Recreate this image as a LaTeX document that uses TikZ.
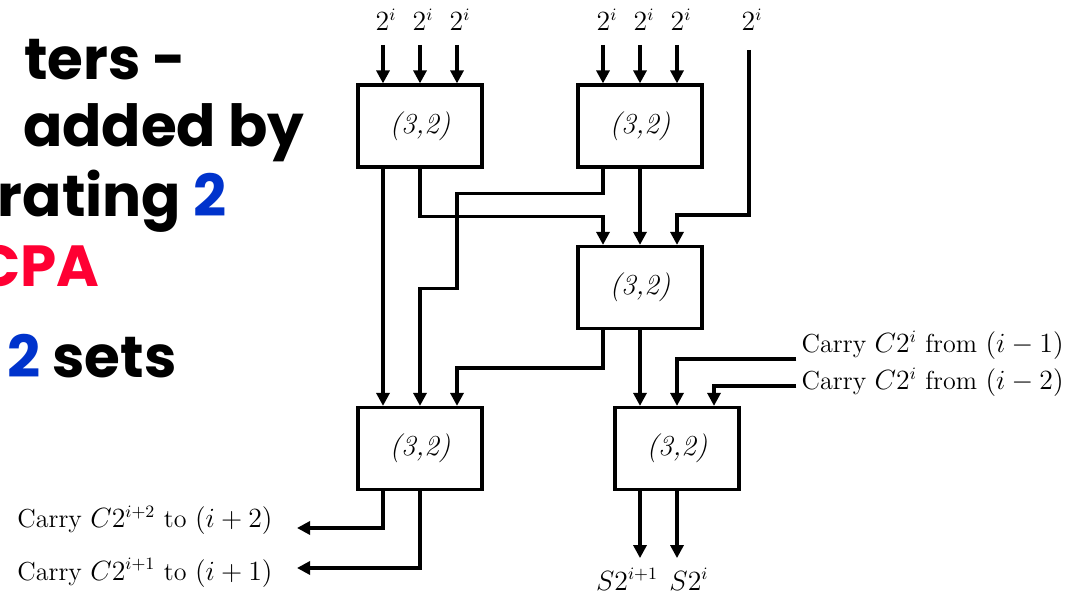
\documentclass[tikz,border=0pt]{standalone}
\usepackage{graphicx}
\usepackage{fontspec}
\newfontfamily\comic{Poppins}
\usetikzlibrary{arrows.meta,calc}
\definecolor{myblue}{RGB}{0,51,204}
\definecolor{myred}{RGB}{255,0,51}
\newcommand{\lblsc}[1]{\scalebox{0.965}{#1}}
\begin{document}
\begin{tikzpicture}[x=0.5pt,y=-0.5pt,
  csa/.style={draw,line width=1.6pt,minimum width=62pt,minimum height=41pt,inner sep=0pt,
    font=\fontsize{14.5}{16}\selectfont\itshape},
  wire/.style={line width=1.6pt},
  arr/.style={wire,-{Triangle[length=6.5pt,width=6.5pt]}},
  lbl/.style={font=\fontsize{13.5}{15}\selectfont,inner sep=0pt},
  big/.style={font=\comic\bfseries\fontsize{29}{35}\selectfont,inner sep=0pt,anchor=base east}]
\useasboundingbox (0,0) rectangle (1069,597);

% left heading text (clipped at the left edge, as in the reference)
\begin{scope}
\clip (0,0) rectangle (1069,597);
\node[big] (t1) at (187,80) {ters -};
\node[big] (t2) at (305,147) {added by};
\node[big] (t3) at (227,217) {rating \textcolor{myblue}{2}};
\node[big,text=myred] (t4) at (100,287) {CPA};
\node[big] (t5) at (177,378) {\textcolor{myblue}{2} sets};
\end{scope}

% boxes
\node[csa] (b1) at (420,126) {(3,2)};
\node[csa] (b2) at (640,126) {(3,2)};
\node[csa] (b3) at (640,287.5) {(3,2)};
\node[csa] (b4) at (420,448.5) {(3,2)};
\node[csa] (b5) at (677,448.5) {(3,2)};

% top labels
\node[lbl,anchor=base] (l1) at (386,31) {\lblsc{$2^i$}};
\node[lbl,anchor=base] (l2) at (423,31) {\lblsc{$2^i$}};
\node[lbl,anchor=base] (l3) at (460,31) {\lblsc{$2^i$}};
\node[lbl,anchor=base] (l4) at (607,31) {\lblsc{$2^i$}};
\node[lbl,anchor=base] (l5) at (644,31) {\lblsc{$2^i$}};
\node[lbl,anchor=base] (l6) at (681,31) {\lblsc{$2^i$}};
\node[lbl,anchor=base] (l7) at (752,31) {\lblsc{$2^i$}};

\coordinate (i1) at (383,45);
\coordinate (i2) at (420,45);
\coordinate (i3) at (457,45);
\coordinate (i4) at (603,45);
\coordinate (i5) at (640,45);
\coordinate (i6) at (677,45);
\coordinate (i7) at (749,50);

\draw[arr] (i1) -- (i1 |- b1.north);
\draw[arr] (i2) -- (i2 |- b1.north);
\draw[arr] (i3) -- (i3 |- b1.north);
\draw[arr] (i4) -- (i4 |- b2.north);
\draw[arr] (i5) -- (i5 |- b2.north);
\draw[arr] (i6) -- (i6 |- b2.north);
\draw[arr] (i7) -- ++(0,165) -| ($(b3.north)+(37,0)$);

% box 1 outputs
\draw[arr] ($(b1.south)+(-37,0)$) -- ($(b4.north)+(-37,0)$);
\draw[arr] (b1.south) -- ++(0,48) -| ($(b3.north)+(-37,0)$);

% box 2 outputs
\draw[arr] ($(b2.south)+(-37,0)$) -- ++(0,25) -| ++(-146,95) -| (b4.north);
\draw[arr] (b2.south) -- (b3.north);

% box 3 outputs
\draw[arr] ($(b3.south)+(-37,0)$) -- ++(0,38) -| ($(b4.north)+(37,0)$);
\draw[arr] (b3.south) -- ($(b5.north)+(-37,0)$);

% carries in
\node[lbl,anchor=base east] (cf1) at (1064,353) {\lblsc{Carry $C2^i$ from $(i-1)$}};
\node[lbl,anchor=base east] (cf2) at (1064,390) {\lblsc{Carry $C2^i$ from $(i-2)$}};
\draw[arr] ([shift={(-5,6)}]cf1.base west) -| (b5.north);
\draw[arr] ([shift={(-5,-4)}]cf2.base west) -| ($(b5.north)+(37,0)$);

% box 5 outputs
\node[lbl,anchor=base] (s1) at (627,590) {\lblsc{$S2^{i+1}$}};
\node[lbl,anchor=base] (s2) at (689,590) {\lblsc{$S2^i$}};
\draw[arr] ($(b5.south)+(-37,0)$) -- ++(0,67);
\draw[arr] (b5.south) -- ++(0,67);

% box 4 outputs (carries out)
\node[lbl,anchor=base east] (ct2) at (273,528) {\lblsc{Carry $C2^{i+2}$ to $(i+2)$}};
\node[lbl,anchor=base east] (ct1) at (273,580) {\lblsc{Carry $C2^{i+1}$ to $(i+1)$}};
\draw[arr] ($(b4.south)+(-37,0)$) |- ([shift={(24,0)}]ct2.base east);
\draw[arr] (b4.south) |- ([shift={(24,-12)}]ct1.base east);
\end{tikzpicture}
\end{document}
